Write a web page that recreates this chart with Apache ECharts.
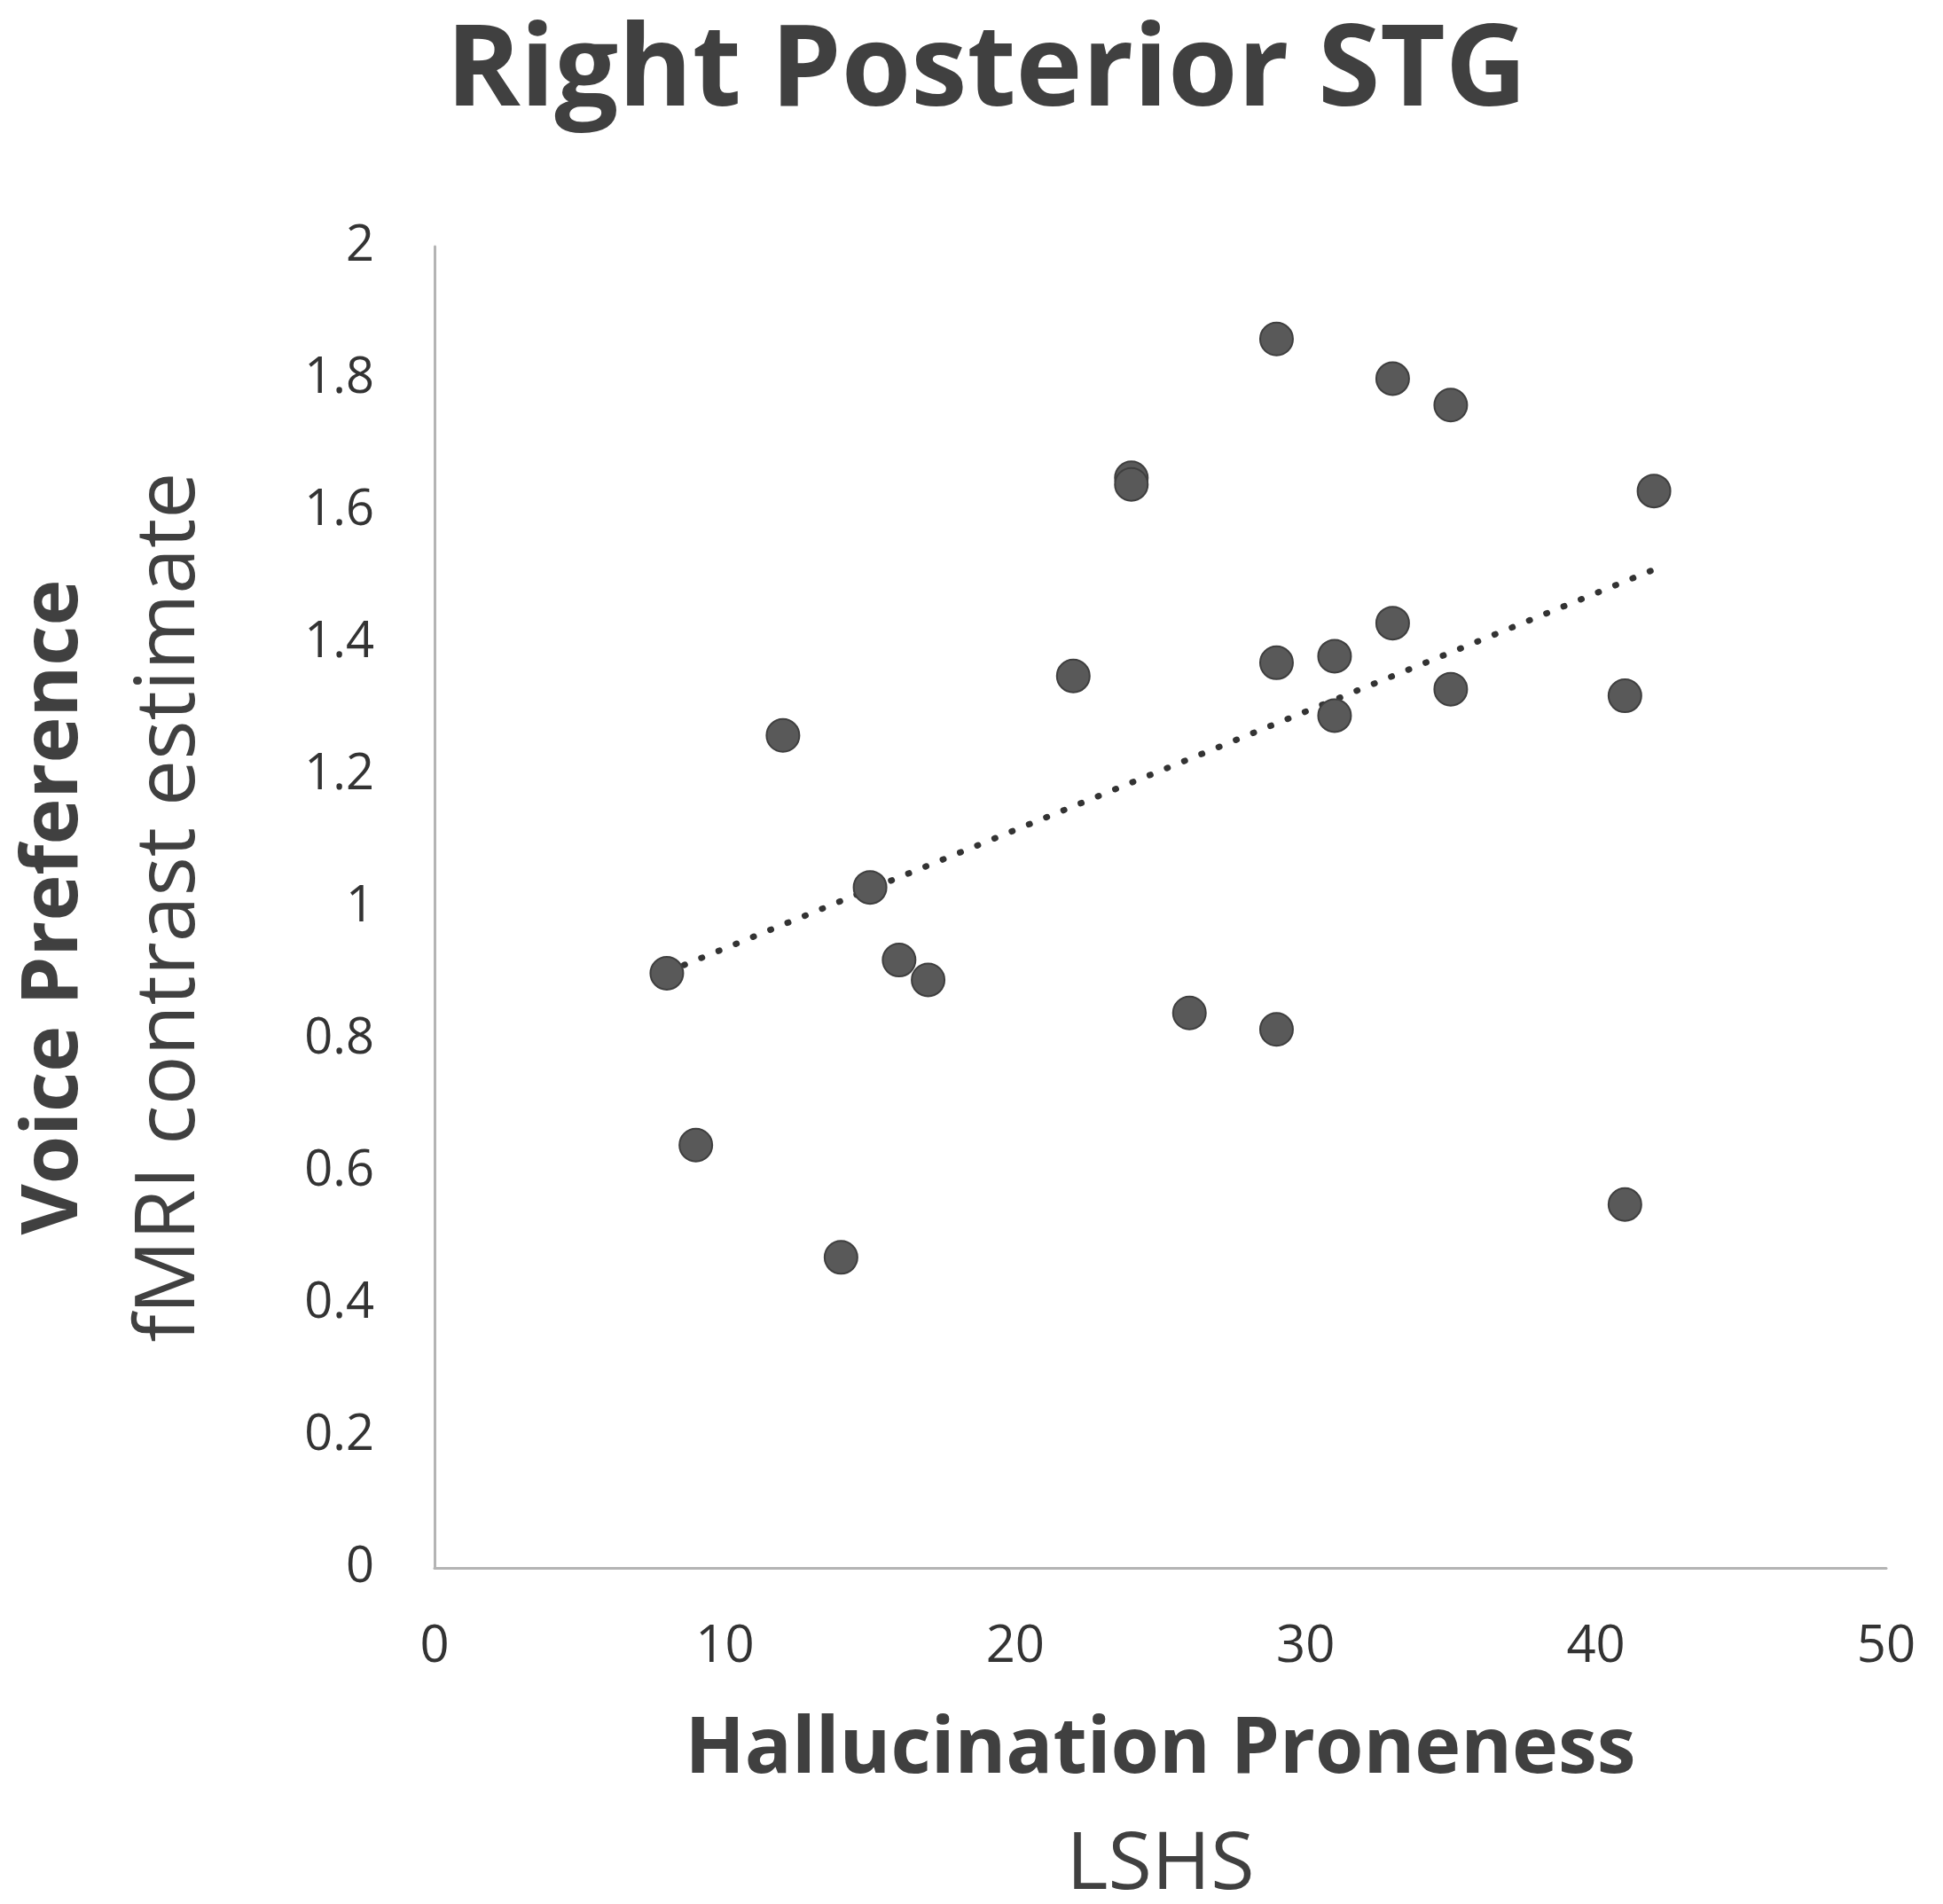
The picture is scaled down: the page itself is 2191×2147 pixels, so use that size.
<!DOCTYPE html>
<html>
<head>
<meta charset="utf-8">
<script src="https://cdn.jsdelivr.net/npm/echarts@6/dist/echarts.min.js"></script>
<style>
    html, body { margin: 0; padding: 0; background: #fff; }
    #chart { width: 2191px; height: 2147px; }
</style>
</head>
<body>
<div id="chart"></div>
<script>
// LSHS 得分（横轴）
const lshs = [8, 9, 12, 14, 15, 16, 17, 22, 24, 24, 26, 29, 29, 29, 31, 31, 33, 33, 35, 35, 41, 41, 42];
// fMRI 对比估计（纵轴）
const contrast = [0.90, 0.64, 1.26, 0.47, 1.03, 0.92, 0.89, 1.35, 1.65, 1.64, 0.84, 1.86, 1.37, 0.815, 1.38, 1.29, 1.80, 1.43, 1.76, 1.33, 1.32, 0.55, 1.63];
const xTicks = [0, 10, 20, 30, 40, 50];
const yTicks = [0, 0.2, 0.4, 0.6, 0.8, 1, 1.2, 1.4, 1.6, 1.8, 2];

const font = '"Open Sans", "Noto Sans", sans-serif';

(function () {
    let myChart = echarts.init(document.getElementById('chart'));

    let points = lshs.map((x, i) => [x, contrast[i]]);

    // 线性趋势线（最小二乘）
    let n = lshs.length;
    let mx = lshs.reduce((a, b) => a + b, 0) / n;
    let my = contrast.reduce((a, b) => a + b, 0) / n;
    let sxy = 0, sxx = 0;
    lshs.forEach((x, i) => {
        sxy += (x - mx) * (contrast[i] - my);
        sxx += (x - mx) * (x - mx);
    });
    let slope = sxy / sxx;
    let icpt = my - slope * mx;
    let xMin = Math.min(...lshs), xMax = Math.max(...lshs);
    let trend = [[xMin, icpt + slope * xMin], [xMax, icpt + slope * xMax]];

    let option = {
        animation: false,
        textStyle: { fontFamily: font },
        title: {
            text: 'Right Posterior STG',
            left: 498,
            top: 14,
            textStyle: {
                fontFamily: font,
                fontSize: 127,
                fontWeight: 'bold',
                color: '#404040'
            }
        },
        grid: {
            left: 490,
            right: 64,
            top: 278,
            bottom: 379,
            outerBoundsMode: 'none',
            containLabel: false
        },
        xAxis: {
            type: 'value',
            min: xTicks[0],
            max: xTicks[xTicks.length - 1],
            interval: xTicks[1] - xTicks[0],
            splitLine: { show: false },
            axisTick: { show: false },
            axisLine: {
                show: true,
                lineStyle: { color: '#b4b4b4', width: 3 }
            },
            axisLabel: {
                color: '#333',
                fontSize: 58,
                margin: 60
            },
            name: '{a|Hallucination Proneness}\n{b|LSHS}',
            nameLocation: 'middle',
            nameGap: 141,
            nameTextStyle: {
                rich: {
                    a: { fontFamily: font, fontSize: 88, fontWeight: 'bold', color: '#404040', lineHeight: 130 },
                    b: { fontFamily: font, fontSize: 90, color: '#404040', lineHeight: 130 }
                }
            }
        },
        yAxis: {
            type: 'value',
            min: yTicks[0],
            max: yTicks[yTicks.length - 1],
            interval: 0.2,
            splitLine: { show: false },
            axisTick: { show: false },
            axisLine: {
                show: true,
                lineStyle: { color: '#b4b4b4', width: 3 }
            },
            axisLabel: {
                color: '#333',
                fontSize: 56,
                margin: 68
            },
            name: '{a|Voice Preference}\n{b|fMRI contrast estimate}',
            nameLocation: 'middle',
            nameRotate: 90,
            nameGap: 233,
            nameTextStyle: {
                rich: {
                    a: { fontFamily: font, fontSize: 88, fontWeight: 'bold', color: '#404040', lineHeight: 130 },
                    b: { fontFamily: font, fontSize: 93, color: '#404040', lineHeight: 130 }
                }
            }
        },
        series: [
            {
                name: 'trend',
                type: 'line',
                data: trend,
                symbol: 'none',
                z: 1,
                lineStyle: {
                    color: '#333',
                    width: 7,
                    type: [1, 20],
                    cap: 'round'
                }
            },
            {
                name: 'subjects',
                type: 'scatter',
                data: points,
                symbolSize: 37,
                z: 2,
                itemStyle: {
                    color: '#595959',
                    borderColor: '#3f3f3f',
                    borderWidth: 2,
                    opacity: 1
                }
            }
        ]
    };
    myChart.setOption(option);
})();
</script>
</body>
</html>
